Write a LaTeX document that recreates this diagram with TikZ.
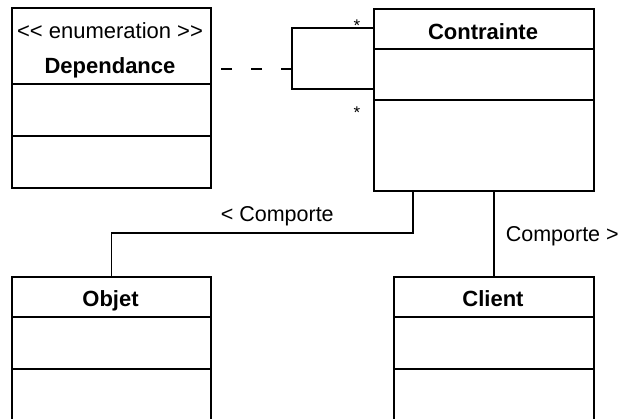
\documentclass[tikz,border=0pt]{standalone}
\usepackage{fontspec}
\setmainfont{Liberation Sans}
\begin{document}
\begin{tikzpicture}[x=1pt,y=-1pt,
  line width=1.6pt,
  classbox/.style={draw,rectangle,anchor=north west,inner sep=0pt,minimum width=199pt},
  divider/.style={line width=1.6pt},
  title/.style={font=\fontsize{22}{26}\selectfont\bfseries,inner sep=0pt,anchor=base},
  lbl/.style={font=\fontsize{21.5}{26}\selectfont,inner sep=0pt,anchor=base west},
  mult/.style={font=\fontsize{17}{20}\selectfont,inner sep=0pt,anchor=base},
  dashline/.style={line width=1.6pt,dash pattern=on 11pt off 19pt}
]
\useasboundingbox (0,0) rectangle (620,418);
\clip (0,0) rectangle (620,418);
% Dependance
\node[classbox,minimum height=180pt] (dep) at (11,7) {};
\node[font=\fontsize{22}{26}\selectfont,inner sep=0pt,anchor=base] (depst) at (110,38) {{<}{<} enumeration {>}{>}};
\node[title] (depname) at (110,73) {Dependance};
\draw[divider] ([yshift=-77pt]dep.north west) -- ([yshift=-77pt]dep.north east);
\draw[divider] ([yshift=-129pt]dep.north west) -- ([yshift=-129pt]dep.north east);
% Contrainte
\node[classbox,minimum width=220pt,minimum height=182pt] (contr) at (373,8) {};
\node[title] (contrname) at (483,39) {Contrainte};
\draw[divider] ([yshift=-41pt]contr.north west) -- ([yshift=-41pt]contr.north east);
\draw[divider] ([yshift=-92pt]contr.north west) -- ([yshift=-92pt]contr.north east);
% Objet
\node[classbox,minimum height=180pt] (objet) at (11,276) {};
\node[title] (objetname) at (110.5,306) {Objet};
\draw[divider] ([yshift=-41pt]objet.north west) -- ([yshift=-41pt]objet.north east);
\draw[divider] ([yshift=-93pt]objet.north west) -- ([yshift=-93pt]objet.north east);
% Client
\node[classbox,minimum width=200pt,minimum height=180pt] (client) at (393,276) {};
\node[title] (clientname) at (493,306) {Client};
\draw[divider] ([yshift=-41pt]client.north west) -- ([yshift=-41pt]client.north east);
\draw[divider] ([yshift=-93pt]client.north west) -- ([yshift=-93pt]client.north east);
% self association loop on Contrainte
\coordinate (lt) at (292,28);
\coordinate (lb) at (292,89);
\coordinate (lm) at (292,69);
\draw (contr.west |- lt) -- (lt) -- (lb) -- (contr.west |- lb);
\draw[dashline] (lm) -- (dep.east |- lm);
\node[mult] (m1) at (357,31) {*};
\node[mult] (m2) at (357,118) {*};
% Contrainte -- Objet
\coordinate (c1) at (413,190);
\coordinate (bend) at (111,233);
\draw (c1) |- (objet.north |- bend) -- (objet.north);
\node[lbl] (l1) at (220,221) {< Comporte};
% Contrainte -- Client
\draw (contr.south -| client.north) -- (client.north);
\node[lbl] (l2) at (505,241) {Comporte >};
\end{tikzpicture}
\end{document}
